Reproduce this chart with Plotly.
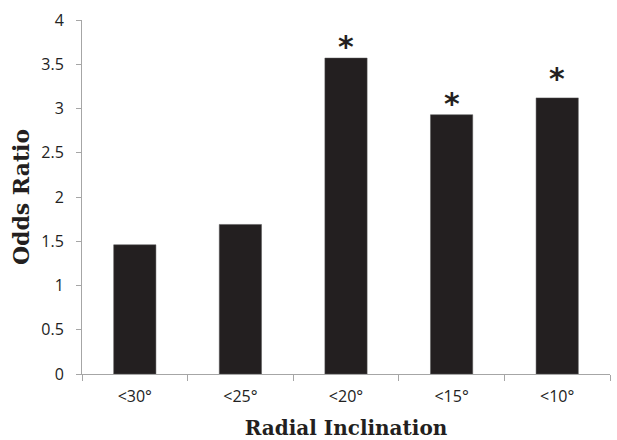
import plotly.graph_objects as go

categories = ["<30°", "<25°", "<20°", "<15°", "<10°"]
odds_ratio = [1.46, 1.69, 3.57, 2.93, 3.12]
significant = [False, False, True, True, True]
y_ticks = [0, 0.5, 1, 1.5, 2, 2.5, 3, 3.5, 4]
y_tick_labels = ["0", "0.5", "1", "1.5", "2", "2.5", "3", "3.5", "4"]
star_shift = [0, 0, 0, 0, 8]

fig = go.Figure()
fig.add_trace(go.Bar(
    x=categories, y=odds_ratio,
    marker=dict(color="#231f20", line=dict(color="#555555", width=0.5)),
    width=0.4,
))

for c, v, s, sh in zip(categories, odds_ratio, significant, star_shift):
    if s:
        fig.add_annotation(x=c, y=v, text="<b>*</b>", showarrow=False,
                           yanchor="bottom", yshift=-8 + sh,
                           font=dict(family="DejaVu Sans", size=30, color="#231f20"))

fig.update_layout(
    width=617, height=440,
    margin=dict(l=82, r=7, t=20, b=66),
    plot_bgcolor="white", paper_bgcolor="white",
    showlegend=False,
    font=dict(family="Open Sans", size=16, color="#222222"),
)
fig.update_xaxes(
    type="category", automargin=False,
    showline=True, linecolor="#a6a6a6", linewidth=1,
    ticks="outside", tickson="boundaries", ticklen=6, tickcolor="#a6a6a6",
    ticklabelstandoff=8,
    tickfont=dict(family="Open Sans", size=16, color="#222222"),
    title=dict(text="<b>Radial Inclination</b>",
               font=dict(family="DejaVu Serif", size=20, color="#231f20"),
               standoff=26),
    range=[-0.5, 4.5],
)
fig.update_yaxes(
    range=[0, 4], automargin=False,
    tickvals=y_ticks, ticktext=y_tick_labels,
    showgrid=False, zeroline=False,
    showline=True, linecolor="#a6a6a6", linewidth=1,
    ticks="outside", ticklen=5, tickcolor="#a6a6a6",
    ticklabelstandoff=9,
    tickfont=dict(family="Open Sans", size=16, color="#222222"),
    title=dict(text="<b>Odds Ratio</b>",
               font=dict(family="DejaVu Serif", size=22, color="#231f20"),
               standoff=5),
)

fig.write_html("out.html", config={"displayModeBar": False},
               post_script="document.body.style.margin='0';")
